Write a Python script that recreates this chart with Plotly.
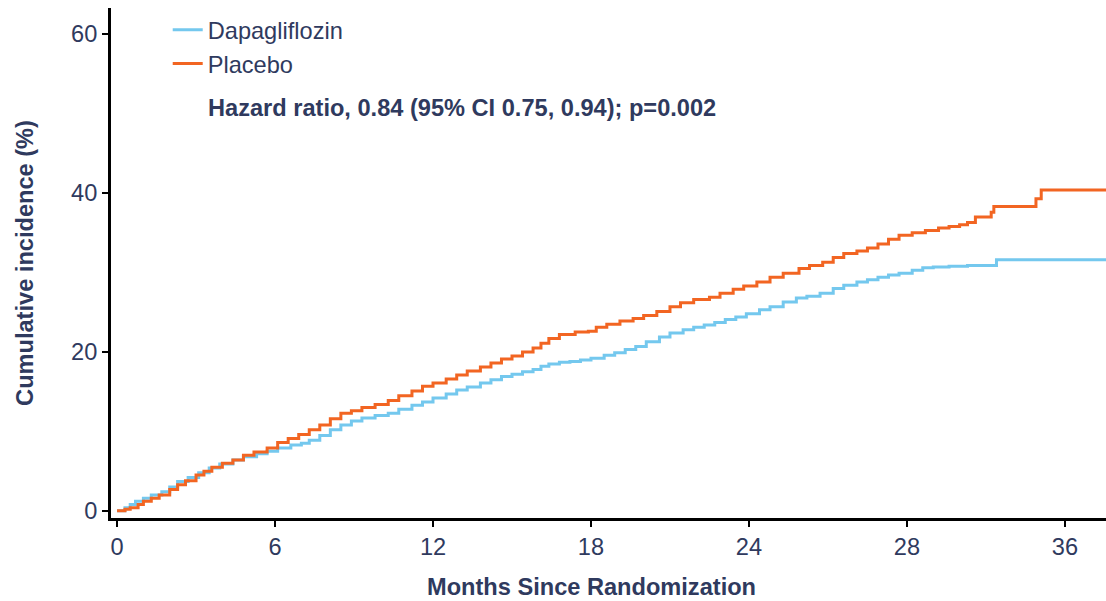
import plotly.graph_objects as go

# ---- data ----
dapa_t = [0, 0.3, 0.5, 0.7, 1.0, 1.3, 1.7, 2.0, 2.3, 2.7, 3.1, 3.5, 3.9, 4.4, 4.8, 5.3, 5.7,
          6.1, 6.6, 7.0, 7.3, 7.7, 8.1, 8.5, 8.9, 9.3, 9.8, 10.3, 10.7, 11.2, 11.6, 12.0,
          12.5, 12.9, 13.3, 13.8, 14.2, 14.6, 15.0, 15.4, 15.8, 16.1, 16.4, 16.8, 17.2,
          17.6, 18.0, 18.5, 18.9, 19.3, 19.7, 20.1, 20.6, 21.0, 21.5, 21.9, 22.3, 22.7,
          23.1, 23.5, 23.9, 24.4, 24.8, 25.3, 25.8, 26.2, 26.7, 27.2, 27.6, 28.1, 28.5,
          28.9, 29.3, 29.7, 30.2, 30.6, 31.0, 31.6, 32.3, 33.4, 37.6]
dapa_v = [0, 0.4, 0.8, 1.2, 1.6, 2.0, 2.4, 3.0, 3.7, 4.2, 4.8, 5.4, 5.9, 6.4, 6.8, 7.2, 7.5,
          7.9, 8.3, 8.5, 8.9, 9.5, 10.2, 10.8, 11.3, 11.7, 12.0, 12.3, 12.8, 13.3, 13.7, 14.2,
          14.7, 15.2, 15.6, 16.1, 16.5, 16.9, 17.2, 17.5, 17.8, 18.2, 18.5, 18.7, 18.8,
          19.0, 19.2, 19.6, 19.9, 20.3, 20.7, 21.3, 21.9, 22.4, 22.8, 23.1, 23.4, 23.7,
          24.1, 24.4, 24.8, 25.3, 25.7, 26.3, 26.8, 27.0, 27.4, 28.0, 28.4, 28.8, 29.1,
          29.4, 29.7, 29.9, 30.3, 30.6, 30.7, 30.8, 30.9, 31.6, 31.6]

plac_t = [0, 0.3, 0.5, 0.8, 1.0, 1.3, 1.6, 2.0, 2.3, 2.6, 3.0, 3.3, 3.6, 4.0, 4.4, 4.8, 5.2,
          5.7, 6.1, 6.5, 6.9, 7.3, 7.7, 8.1, 8.5, 8.9, 9.3, 9.8, 10.3, 10.7, 11.2, 11.6,
          12.0, 12.5, 12.9, 13.3, 13.8, 14.2, 14.6, 15.0, 15.4, 15.8, 16.1, 16.4, 16.8,
          17.4, 17.9, 18.2, 18.6, 19.1, 19.6, 20.0, 20.5, 21.0, 21.4, 21.9, 22.5, 22.9,
          23.4, 23.8, 24.3, 24.8, 25.3, 25.9, 26.3, 26.8, 27.2, 27.6, 28.1, 28.5, 28.9,
          29.3, 29.7, 30.2, 30.7, 31.2, 31.6, 32.0, 32.3, 32.6, 33.2, 33.3, 34.9, 35.1, 37.6]
plac_v = [0, 0.2, 0.4, 0.8, 1.2, 1.6, 2.0, 2.7, 3.3, 3.8, 4.5, 5.0, 5.5, 6.0, 6.4, 7.0, 7.4,
          7.9, 8.6, 9.1, 9.6, 10.2, 10.8, 11.6, 12.3, 12.6, 13.0, 13.4, 13.9, 14.5, 15.1, 15.7,
          16.1, 16.6, 17.1, 17.6, 18.1, 18.6, 19.1, 19.5, 20.0, 20.5, 21.1, 21.7, 22.2,
          22.5, 22.6, 23.1, 23.5, 23.9, 24.2, 24.6, 25.1, 25.7, 26.2, 26.6, 26.9, 27.4,
          27.9, 28.3, 28.8, 29.4, 29.9, 30.5, 30.9, 31.3, 31.9, 32.4, 32.7, 33.1, 33.6,
          34.2, 34.7, 35.0, 35.3, 35.6, 35.8, 36.0, 36.3, 37.0, 37.6, 38.3, 39.3, 40.4, 40.4]

x_tickvals = [0, 6, 12, 18, 24, 30, 36]
x_ticktext = ["0", "6", "12", "18", "24", "28", "36"]
y_tickvals = [0, 20, 40, 60]

series_names = ["Dapagliflozin", "Placebo"]
annotation_text = "Hazard ratio, 0.84 (95% CI 0.75, 0.94); p=0.002"
x_title = "Months Since Randomization"
y_title = "Cumulative incidence (%)"

BLUE = "#74C8EE"
ORANGE = "#F26522"
NAVY = "#2F3A5E"
FONT = "Liberation Sans, Arial, Helvetica, sans-serif"
FS = 23.6

fig = go.Figure()
fig.add_trace(go.Scatter(x=dapa_t, y=dapa_v, mode="lines", name=series_names[0],
                         line=dict(color=BLUE, width=3, shape="hv")))
fig.add_trace(go.Scatter(x=plac_t, y=plac_v, mode="lines", name=series_names[1],
                         line=dict(color=ORANGE, width=3, shape="hv")))

fig.update_layout(
    width=1106, height=601,
    margin=dict(l=111, r=0, t=8, b=83, autoexpand=False),
    paper_bgcolor="white", plot_bgcolor="white",
    font=dict(family=FONT, size=FS, color=NAVY),
    showlegend=True,
    legend=dict(x=0.057, y=1.0, xanchor="left", yanchor="top",
                bgcolor="rgba(0,0,0,0)", font=dict(size=FS, color=NAVY),
                tracegroupgap=0, itemwidth=30),
    annotations=[
        dict(text="<b>" + annotation_text + "</b>", xref="paper", yref="paper",
             x=0.0955, y=0.804, xanchor="left", yanchor="middle",
             showarrow=False, font=dict(size=FS, color=NAVY)),
        dict(text="<b>" + x_title + "</b>", xref="paper", yref="paper",
             x=0.4834, y=-0.1353, xanchor="center", yanchor="middle",
             showarrow=False, font=dict(size=FS, color=NAVY)),
    ],
)
fig.update_xaxes(
    range=[-0.23, 37.56], tickvals=x_tickvals, ticktext=x_ticktext, automargin=False,
    showgrid=False, zeroline=False, showline=True, linecolor="black", linewidth=3,
    ticks="outside", ticklen=6, tickwidth=2, tickcolor="black",
    tickfont=dict(size=FS, color=NAVY),
)
fig.update_yaxes(
    range=[-0.9, 63.3], tickvals=y_tickvals, automargin=False,
    showgrid=False, zeroline=False, showline=True, linecolor="black", linewidth=3,
    ticks="outside", ticklen=6, tickwidth=2, tickcolor="black",
    tickfont=dict(size=FS, color=NAVY),
    title=dict(text="<b>" + y_title + "</b>", font=dict(size=FS, color=NAVY), standoff=31),
)

fig.write_html("out.html", config={"displayModeBar": False},
               post_script="document.body.style.margin='0';")
